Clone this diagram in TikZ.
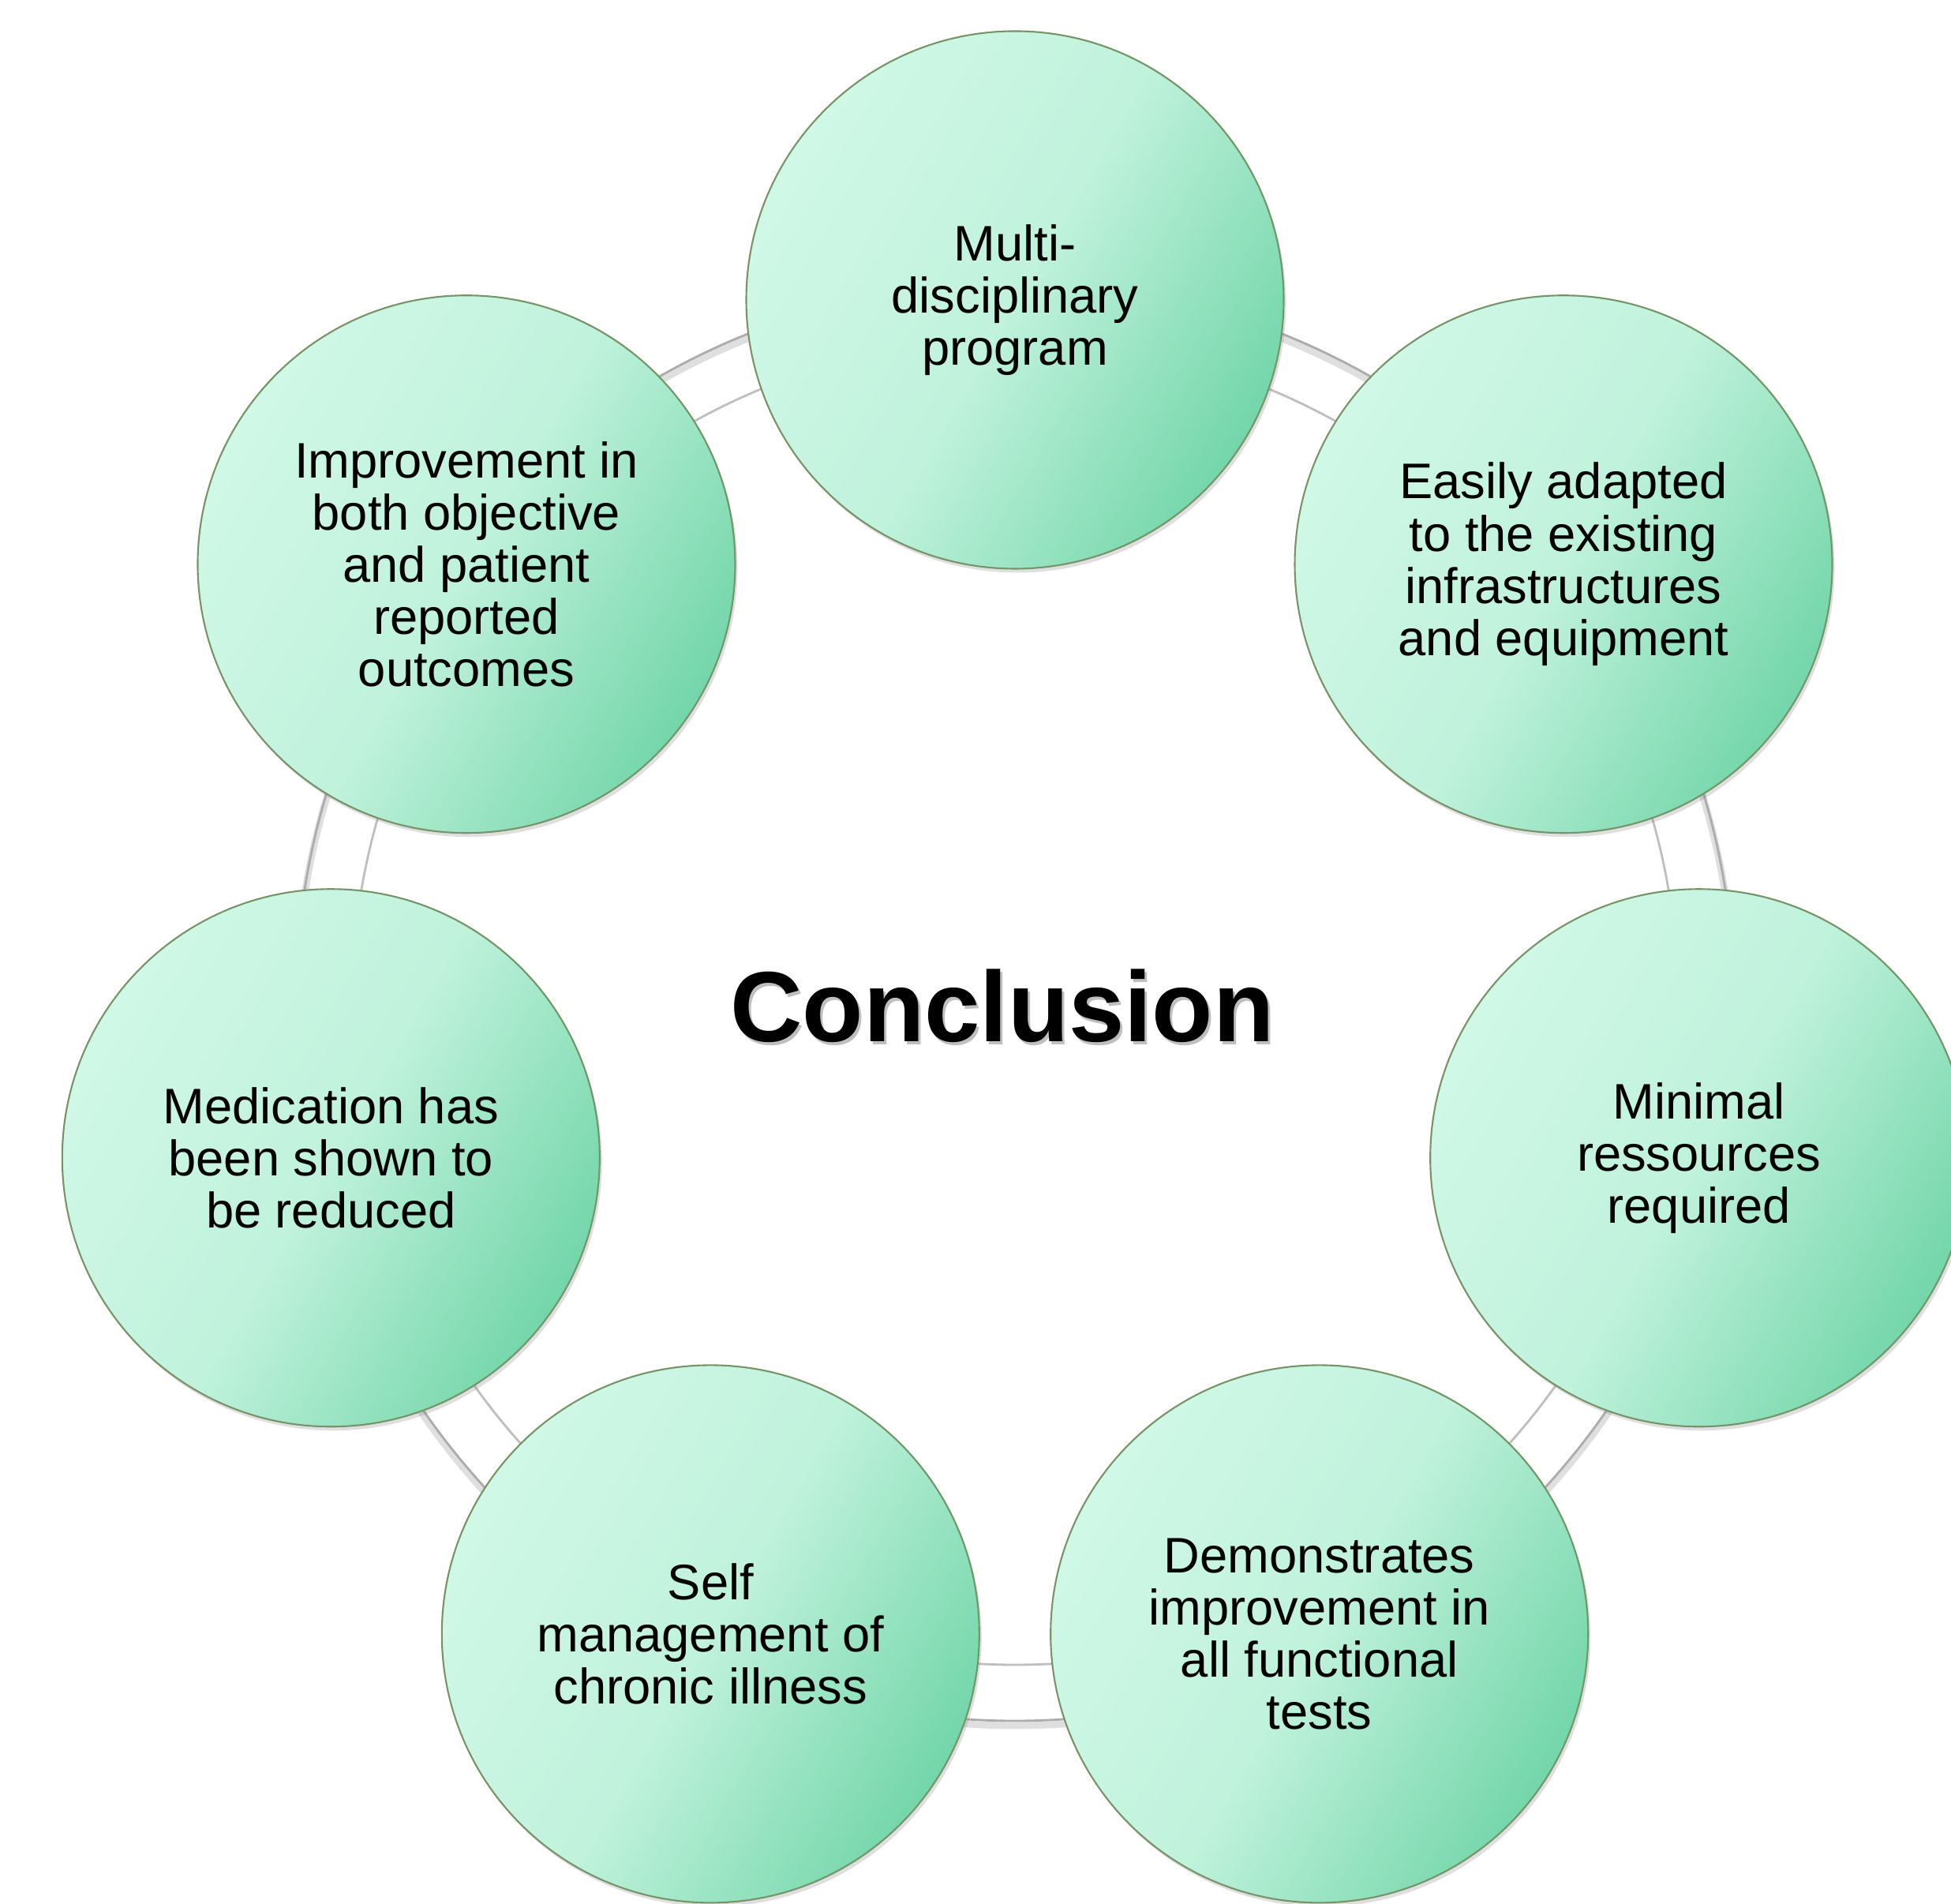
\documentclass[tikz,border=0pt]{standalone}
\usepackage{fontspec}
\setmainfont{Liberation Sans}
\usetikzlibrary{shadows}
\definecolor{mintlight}{RGB}{208,248,231}
\definecolor{mintmid}{RGB}{192,242,220}
\definecolor{mintdark}{RGB}{116,214,170}
\definecolor{rimgreen}{RGB}{118,148,104}
\tikzset{
  bubble/.style={circle, minimum size=6.81cm, inner sep=0pt, draw=rimgreen, line width=0.6pt,
    top color=mintlight, bottom color=mintdark, middle color=mintmid, shading angle=60,
    drop shadow={opacity=0.25, shadow xshift=0.03cm, shadow yshift=-0.05cm},
    align=center, font=\fontsize{18}{18.8}\selectfont},
  ringline/.style={draw=gray!65, line width=0.8pt},
  ringshadow/.style={draw=gray!25, line width=2.5pt},
}
\begin{document}
\begin{tikzpicture}
    \useasboundingbox (0,0) rectangle (24.72,24.11);
    \coordinate (ctr) at (12.86,11.42);
    % ring behind the bubbles
    \draw[ringshadow] ([yshift=-0.06cm]ctr) circle (9.11);
    \draw[ringline] (ctr) circle (9.11);
    \draw[ringline, draw=gray!50] (ctr) circle (8.40);

    \node[bubble] (multi) at ([shift={(90:8.89)}]ctr) {Multi-\\disciplinary\\program};
    \node[bubble] (adapt) at ([shift={(38.571:8.89)}]ctr) {Easily adapted\\to the existing\\infrastructures\\and equipment};
    \node[bubble] (minimal) at ([shift={(-12.857:8.89)}]ctr) {Minimal\\ressources\\required};
    \node[bubble] (tests) at ([shift={(-64.286:8.89)}]ctr) {Demonstrates\\improvement in\\all functional\\tests};
    \node[bubble] (selfmgmt) at ([shift={(-115.714:8.89)}]ctr) {Self\\management of\\chronic illness};
    \node[bubble] (medic) at ([shift={(-167.143:8.89)}]ctr) {Medication has\\been shown to\\be reduced};
    \node[bubble] (outcomes) at ([shift={(141.429:8.89)}]ctr) {Improvement in\\both objective\\and patient\\reported\\outcomes};

    \node[font=\fontsize{36}{40}\selectfont\bfseries, text=black, opacity=0.25] (conclshadow) at (12.73,11.33) {Conclusion};
    \node[font=\fontsize{36}{40}\selectfont\bfseries] (concl) at (12.70,11.37) {Conclusion};
\end{tikzpicture}
\end{document}
